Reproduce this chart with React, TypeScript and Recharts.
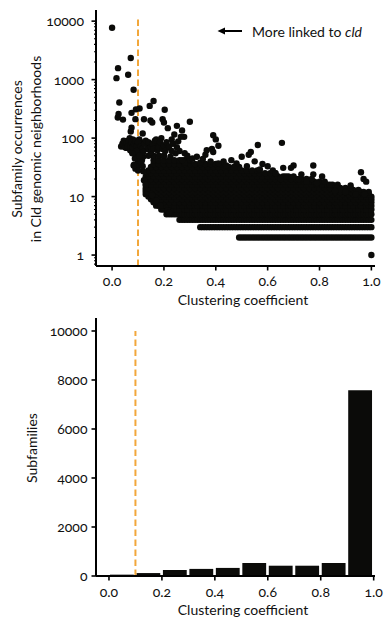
import React from 'react';
import { ScatterChart, Scatter, XAxis, YAxis, ReferenceLine, BarChart, Bar } from 'recharts';

const FONT = 'Lato, "Open Sans", sans-serif';

// ---------- shared x ticks ----------
const xTicks = [0, 0.2, 0.4, 0.6, 0.8, 1.0];
const threshold = 0.1;

// ---------- top: scatter (log y) ----------
const occMajorTicks = [1, 10, 100, 1000, 10000];
const occMinorTicks = [0.7, 0.8, 0.9, 2, 3, 4, 5, 6, 7, 8, 9, 20, 30, 40, 50, 60, 70, 80, 90,
  200, 300, 400, 500, 600, 700, 800, 900, 2000, 3000, 4000, 5000, 6000, 7000, 8000, 9000];

// sparse points: [clustering coefficient, occurrences]
const sparsePoints: [number, number][] = [
  [0.0, 7700], [0.023, 1570], [0.017, 1060], [0.072, 2340], [0.062, 1210], [0.083, 670],
  [0.028, 405], [0.025, 258], [0.022, 225], [0.042, 207], [0.16, 430], [0.145, 355],
  [0.203, 305], [0.30, 190], [0.092, 310], [0.106, 320], [0.075, 270], [0.09, 211],
  [0.123, 210], [0.148, 200], [0.155, 185], [0.195, 210], [0.2, 185], [0.118, 120],
  [0.075, 150], [0.072, 130], [0.215, 148], [0.25, 162], [0.27, 135], [0.24, 115],
  [0.278, 105], [0.39, 112], [0.40, 95], [0.41, 74], [0.385, 65], [0.562, 76], [0.655, 83],
  [0.265, 105], [0.23, 95], [0.19, 100], [0.17, 95], [0.163, 75], [0.19, 75],
  [0.70, 34], [0.69, 31], [0.776, 34], [0.73, 24], [0.776, 24], [0.81, 22], [0.96, 26],
  [0.97, 20], [0.98, 18], [0.92, 15.5], [0.84, 16], [0.867, 14], [0.88, 13], [0.99, 12],
  [0.50, 48], [0.527, 52], [0.535, 58], [0.46, 42], [0.48, 37], [0.43, 40], [0.41, 37],
  [0.60, 33], [0.62, 28], [0.66, 31], [0.67, 22], [0.65, 20], [0.58, 36], [0.55, 40],
  [0.327, 48], [0.36, 52], [0.365, 62], [0.39, 58], [0.34, 38], [0.30, 43], [0.28, 38],
  [0.27, 42], [0.245, 55], [0.225, 48], [0.2, 50], [0.21, 68], [0.173, 75], [0.14, 75],
  [0.135, 65], [0.15, 57], [0.12, 48], [0.115, 42], [0.12, 27], [0.123, 19], [0.13, 16],
  [0.154, 10.6], [0.17, 8.5], [0.187, 7], [0.215, 5.8], [0.22, 5.3], [0.25, 70], [0.23, 60],
  [0.035, 72], [0.045, 75], [0.05, 85], [0.055, 68], [0.06, 90], [0.065, 78], [0.07, 62],
  [0.075, 70], [0.08, 85], [0.085, 55], [0.09, 65], [0.095, 48], [0.1, 40], [0.1, 58],
  [0.105, 75], [0.11, 62], [0.115, 52], [0.085, 35], [0.09, 30], [0.098, 33], [0.1, 28],
  [0.107, 45], [0.092, 80], [0.08, 95], [0.068, 100], [0.105, 95], [0.112, 85], [0.083, 34],
  [0.04, 80], [0.045, 90], [0.05, 70], [0.055, 82], [0.06, 72], [0.065, 88], [0.07, 75],
  [0.075, 85], [0.08, 70], [0.085, 80], [0.09, 90], [0.095, 72], [0.1, 85], [0.105, 60],
  [0.11, 72], [0.115, 65], [0.12, 58], [0.095, 60], [0.088, 45], [0.078, 55], [0.105, 50],
  [0.112, 38], [0.118, 33],
  [0.125, 80], [0.13, 90], [0.14, 85], [0.15, 70], [0.155, 80], [0.16, 65], [0.165, 90],
  [0.175, 62], [0.18, 70], [0.185, 85], [0.195, 65], [0.2, 75], [0.205, 60], [0.21, 85],
  [0.22, 72], [0.235, 80], [0.26, 60], [0.255, 88], [0.28, 55], [0.29, 50], [0.31, 45],
  [0.35, 44], [0.38, 40], [0.44, 34], [0.47, 31], [0.52, 33], [0.57, 29], [0.63, 25],
  [0.72, 20], [0.75, 18], [0.79, 17], [0.86, 12.5], [0.9, 12], [0.94, 11], [0.975, 11],
  [1.0, 1],
];

// dense band of overplotted points: occurrence value of each row and the
// clustering coefficients (in hundredths) of the points on that row
const denseRowValues = [2, 3, 4, 5, 6, 7, 8, 9, 10, 11, 12, 13, 14, 16, 18, 20, 22, 25, 28, 32, 36, 42, 50];
const denseRowCoeffs = [
  '49 50 51 52 53 54 55 56 57 58 59 60 61 62 63 64 65 66 67 68 69 70 71 72 73 74 75 76 77 78 79 80 81 82 83 84 85 86 87 88 89 90 91 92 93 94 95 96 97 98 99 100',
  '34 35 36 37 38 39 40 41 42 43 44 45 46 47 48 49 50 51 52 53 54 55 56 57 58 59 60 61 62 63 64 65 66 67 68 69 70 71 72 73 74 75 76 77 78 79 80 81 82 83 84 85 86 87 88 89 90 91 92 93 94 95 96 97 98 99 100',
  '26 27 28 29 30 31 32 33 34 35 36 37 38 39 40 41 42 43 44 45 46 47 48 49 50 51 52 53 54 55 56 57 58 59 60 61 62 63 64 65 66 67 68 69 70 71 72 73 74 75 76 77 78 79 80 81 82 83 84 85 86 87 88 89 90 91 92 93 94 95 96 97 98 99 100',
  '21 22 23 24 25 26 27 28 29 30 31 32 33 34 35 36 37 38 39 40 41 42 43 44 45 46 47 48 49 50 51 52 53 54 55 56 57 58 59 60 61 62 63 64 65 66 67 68 69 70 71 72 73 74 75 76 77 78 79 80 81 82 83 84 85 86 87 88 89 90 91 92 93 94 95 96 97 98 99 100',
  '19 20 22 23 25 26 28 29 31 32 34 35 37 38 40 41 43 44 46 47 49 50 52 53 55 56 58 59 61 62 64 65 67 68 70 71 73 74 76 77 79 80 82 83 85 86 88 89 91 92 94 95 97 98 100',
  '17 18 20 21 23 24 26 27 29 30 32 33 35 36 38 39 41 42 44 45 47 48 50 51 53 54 56 57 59 60 62 63 65 66 68 69 71 72 74 75 77 78 80 81 83 84 86 87 89 90 92 93 95 96 98 99 100',
  '16 18 20 22 24 26 28 30 32 34 36 38 40 42 44 46 48 50 52 54 56 58 60 62 64 66 68 70 72 74 76 78 80 82 84 86 88 90 92 94 96 98 100',
  '15 17 19 21 23 25 27 29 31 33 35 37 39 41 43 45 47 49 51 53 55 57 59 61 63 65 67 69 71 73 75 77 79 81 83 85 87 89 91 93 95 97 99 100',
  '14 16 18 20 22 24 26 28 30 32 34 36 38 40 42 44 46 48 50 52 54 56 58 60 62 64 66 68 70 72 74 76 78 80 82 84 86 88 90 92 94 96 98 100',
  '13 15 17 19 21 23 25 27 29 31 33 35 37 39 41 43 45 47 49 51 53 55 57 59 61 63 65 67 69 71 73 75 77 79 81 83 85 87 89 91 93 95 97 99',
  '13 14 16 18 20 22 24 26 28 30 32 34 36 38 40 42 44 46 48 50 52 54 56 58 60 62 64 66 68 70 72 74 76 78 80 82 84 86 88 90 92 94 96 97',
  '13 15 17 19 21 23 25 27 29 31 33 35 37 39 41 43 45 47 49 51 53 55 57 59 61 63 65 67 69 71 73 75 77 79 81 83 85 87 89 91 93 95',
  '13 14 16 18 20 22 24 26 28 30 32 34 36 38 40 42 44 46 48 50 52 54 56 58 60 62 64 66 68 70 72 74 76 78 80 82 84 86 88 90 92',
  '13 15 17 19 21 23 25 27 29 31 33 35 37 39 41 43 45 47 49 51 53 55 57 59 61 63 65 67 69 71 73 75 77 79 81 83 85 87',
  '13 14 16 18 20 22 24 26 28 30 32 34 36 38 40 42 44 46 48 50 52 54 56 58 60 62 64 66 68 70 72 74 76 78 80 82',
  '13 15 17 19 21 23 25 27 29 31 33 35 37 39 41 43 45 47 49 51 53 55 57 59 61 63 65 67 69 71 73 75 77',
  '13 14 16 18 20 22 24 26 28 30 32 34 36 38 40 42 44 46 48 50 52 54 56 58 60 62 64 66 68 70',
  '14 15 17 19 21 23 25 27 29 31 33 35 37 39 41 43 45 47 49 51 53 55 57 59 61 63',
  '14 16 18 20 22 24 26 28 30 32 34 36 38 40 42 44 46 48 50 52 54 56',
  '15 17 19 21 23 25 27 29 31 33 35 37 39 41 43 45 47 49',
  '16 18 20 22 24 26 28 30 32 34 36 38 40 42',
  '16 18 20 22 24 26 28 30',
  '14 16 18 20',
];

const scatterData = [
  ...denseRowValues.flatMap((v, i) =>
    denseRowCoeffs[i].split(' ').map((s) => ({ x: Number(s) / 100, y: v }))),
  ...sparsePoints.map(([x, y]) => ({ x, y })),
];

// ---------- bottom: histogram ----------
const binCenters = [0.05, 0.15, 0.25, 0.35, 0.45, 0.55, 0.65, 0.75, 0.85, 0.95];
const binCounts = [55, 120, 245, 290, 330, 530, 420, 420, 530, 7580];
const countTicks = [0, 2000, 4000, 6000, 8000, 10000];
const histData = binCenters.map((b, i) => ({ bin: b, count: binCounts[i] }));

// ---------- layout ----------
const W = 385;
const PLOT_LEFT = 96;
const PLOT_RIGHT_MARGIN = 10;
const TOP_X_DOMAIN: [number, number] = [-0.062, 1.014];
const BOT_X_DOMAIN: [number, number] = [-0.049, 1.005];
const BIN_WIDTH = 0.1;
const botBarSize = ((W - PLOT_LEFT - PLOT_RIGHT_MARGIN) * BIN_WIDTH) / (BOT_X_DOMAIN[1] - BOT_X_DOMAIN[0]);

const ORANGE = '#f2a73b';
const INK = '#0b0b09';

const numStyle: React.CSSProperties = { fontVariantNumeric: 'oldstyle-nums', fontFeatureSettings: '"onum" 1' };

const OccTick = (props: any) => {
  const { x, y, payload } = props;
  const v = payload.value;
  const major = occMajorTicks.includes(v);
  return (
    <g>
      <line x1={x} x2={x - (major ? 4.5 : 2)} y1={y} y2={y} stroke="#000" strokeWidth={major ? 1.6 : 1.1} />
      {major && (
        <text x={x - 12} y={y} dy="0.36em" textAnchor="end" fontSize={14} fontFamily={FONT} fill="#111" style={numStyle}>
          {v}
        </text>
      )}
    </g>
  );
};

const XTick = (props: any) => {
  const { x, y, payload } = props;
  return (
    <text x={x} y={y} dy="0.71em" textAnchor="middle" fontSize={14} fontFamily={FONT} fill="#111" style={numStyle}>
      {Number(payload.value).toFixed(1)}
    </text>
  );
};

const CountTick = (props: any) => {
  const { x, y, payload } = props;
  return (
    <text x={x} y={y} dy="0.36em" textAnchor="end" fontSize={14} fontFamily={FONT} fill="#111" style={numStyle}>
      {payload.value}
    </text>
  );
};

const Dot = (props: any) => <circle cx={props.cx} cy={props.cy} r={3.2} fill={INK} />;

const axisLine = { stroke: '#000', strokeWidth: 2 };
const tickLine = { stroke: '#000', strokeWidth: 1.6 };

export default function App() {
  const labelStyle = { fontFamily: FONT, fontSize: 14, fill: '#111' } as any;
  return (
    <div style={{ position: 'absolute', left: 0, top: 0, width: W, height: 619, background: '#fff' }}>
      <div style={{ position: 'absolute', left: 0, top: 0 }}>
        <ScatterChart width={W} height={310} margin={{ top: 10, right: PLOT_RIGHT_MARGIN, left: 0, bottom: 0 }}>
          <XAxis
            type="number"
            dataKey="x"
            domain={TOP_X_DOMAIN}
            ticks={xTicks}
            allowDataOverflow
            height={44}
            axisLine={axisLine}
            tickLine={tickLine}
            tickSize={4.5}
            tickMargin={6}
            tick={<XTick />}
            interval={0}
          />
          <YAxis
            type="number"
            dataKey="y"
            scale="log"
            domain={[0.65, 15500]}
            allowDataOverflow
            ticks={[...occMinorTicks, ...occMajorTicks].sort((a, b) => a - b)}
            interval={0}
            width={PLOT_LEFT}
            axisLine={axisLine}
            tickLine={false}
            tickSize={0}
            tickMargin={0}
            tick={<OccTick />}
          />
          <ReferenceLine
            segment={[{ x: threshold, y: 0.65 }, { x: threshold, y: 11000 }]}
            stroke={ORANGE}
            strokeWidth={2}
            strokeDasharray="6.5 3.5"
            ifOverflow="visible"
          />
          <Scatter data={scatterData} isAnimationActive={false} shape={<Dot />} fill={INK} />
        </ScatterChart>
      </div>
      <div style={{ position: 'absolute', left: 0, top: 310 }}>
        <BarChart
          width={W}
          height={309}
          data={histData}
          margin={{ top: 8, right: PLOT_RIGHT_MARGIN, left: 0, bottom: 0 }}
          barCategoryGap={0}
          barGap={0}
        >
          <XAxis
            type="number"
            dataKey="bin"
            domain={BOT_X_DOMAIN}
            ticks={xTicks}
            allowDataOverflow
            height={43}
            axisLine={axisLine}
            tickLine={tickLine}
            tickSize={4.5}
            tickMargin={6.5}
            tick={<XTick />}
            interval={0}
          />
          <YAxis
            type="number"
            domain={[0, 10530]}
            ticks={countTicks}
            interval={0}
            allowDataOverflow
            width={PLOT_LEFT}
            axisLine={axisLine}
            tickLine={tickLine}
            tickSize={4.5}
            tickMargin={4}
            tick={<CountTick />}
          />
          <Bar dataKey="count" fill={INK} isAnimationActive={false} barSize={botBarSize} />
          <ReferenceLine
            segment={[{ x: threshold, y: 0 }, { x: threshold, y: 10000 }]}
            stroke={ORANGE}
            strokeWidth={2}
            strokeDasharray="6.5 3.5"
            ifOverflow="visible"
          />
        </BarChart>
      </div>
      <svg width={W} height={619} style={{ position: 'absolute', left: 0, top: 0, pointerEvents: 'none' }}>
        <text transform="rotate(-90, 22, 149)" x={22} y={149} textAnchor="middle" {...labelStyle}>
          Subfamily occurrences
        </text>
        <text transform="rotate(-90, 40.5, 149)" x={40.5} y={149} textAnchor="middle" {...labelStyle}>
          in Cld genomic neighborhoods
        </text>
        <text x={243} y={305} textAnchor="middle" {...labelStyle}>Clustering coefficient</text>
        <text transform="rotate(-90, 36.5, 448)" x={36.5} y={448} textAnchor="middle" {...labelStyle}>
          Subfamilies
        </text>
        <text x={243} y={615} textAnchor="middle" {...labelStyle}>Clustering coefficient</text>
        <line x1={224} y1={31} x2={242} y2={31} stroke="#000" strokeWidth={2} />
        <polygon points="217.5,31 225,27.5 225,34.5" fill="#000" />
        <text x={252} y={36.5} {...labelStyle}>
          More linked to <tspan fontStyle="italic">cld</tspan>
        </text>
      </svg>
    </div>
  );
}
